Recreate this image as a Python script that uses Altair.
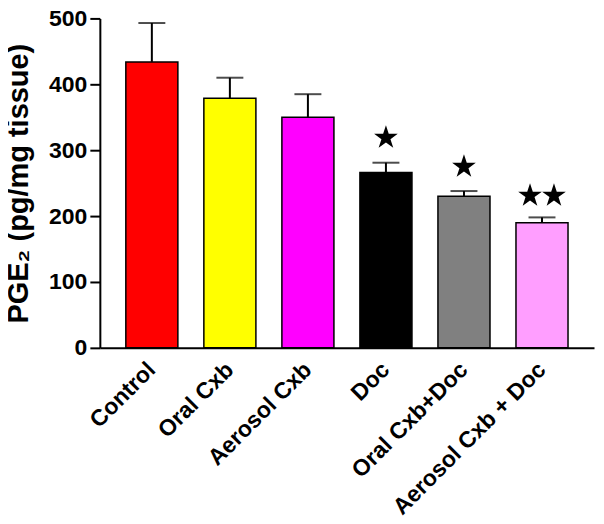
import altair as alt
import pandas as pd

categories = ["Control", "Oral Cxb", "Aerosol Cxb", "Doc", "Oral Cxb+Doc", "Aerosol Cxb + Doc"]
means = [434, 379, 350, 266, 230, 190]
upper = [493, 410, 385, 281, 238, 198]
colors = ["#ff0000", "#ffff00", "#ff00ff", "#000000", "#808080", "#ff9eff"]

star_groups = ["Doc", "Oral Cxb+Doc", "Aerosol Cxb + Doc"]
star_counts = [1, 1, 2]
star_y = [319, 275, 231]

df = pd.DataFrame({"group": categories, "mean": means, "upper": upper, "color": colors})
sdf = pd.DataFrame({"group": star_groups, "n": star_counts, "sy": star_y})

FONT = "Liberation Sans"
STAR = ("M0,-1L0.2245,-0.309L0.951,-0.309L0.3633,0.118L0.5878,0.809L0,0.382"
        "L-0.5878,0.809L-0.3633,0.118L-0.951,-0.309L-0.2245,-0.309Z")

xscale = alt.Scale(domain=categories, paddingInner=0.333, paddingOuter=0.333)
yscale = alt.Scale(domain=[0, 500], nice=False)

xaxis = alt.Axis(labelAngle=-45, labelAlign="right", labelBaseline="middle",
                 labelLimit=400, labelPadding=18,
                 labelFont=FONT, labelFontWeight="bold", labelFontSize=23,
                 labelColor="black", ticks=False,
                 domainColor="black", domainWidth=2)
yaxis = alt.Axis(values=[0, 100, 200, 300, 400, 500], grid=False,
                 labelFont=FONT, labelFontWeight="bold", labelFontSize=23,
                 labelColor="black", labelPadding=3,
                 tickSize=10, tickWidth=2, tickColor="black",
                 domainColor="black", domainWidth=2,
                 titleFont=FONT, titleFontSize=29, titleFontWeight="bold",
                 titleColor="black", titlePadding=15)
YTITLE = "PGE₂ (pg/mg tissue)"

x = alt.X("group:N", scale=xscale, sort=categories, title=None, axis=xaxis)

base = alt.Chart(df)

bars = base.mark_bar(stroke="black", strokeWidth=1.5).encode(
    x=x,
    y=alt.Y("mean:Q", scale=yscale, axis=yaxis, title=YTITLE),
    color=alt.Color("color:N", scale=None, legend=None),
)
err_line = base.mark_rule(color="black", strokeWidth=2).encode(
    x=x,
    y=alt.Y("mean:Q", scale=yscale, axis=yaxis, title=YTITLE),
    y2="upper:Q",
)
err_cap = base.mark_tick(color="black", thickness=2, size=27).encode(
    x=x,
    y=alt.Y("upper:Q", scale=yscale, axis=yaxis, title=YTITLE),
)

sbase = alt.Chart(sdf)
star_enc = dict(x=x, y=alt.Y("sy:Q", scale=yscale, axis=yaxis, title=YTITLE))
STAR_SIZE = 620
star1 = sbase.transform_filter("datum.n == 1").mark_point(
    shape=STAR, filled=True, color="black", size=STAR_SIZE, opacity=1, strokeWidth=0).encode(**star_enc)
star2a = sbase.transform_filter("datum.n == 2").mark_point(
    shape=STAR, filled=True, color="black", size=STAR_SIZE, opacity=1, strokeWidth=0,
    xOffset=-12).encode(**star_enc)
star2b = sbase.transform_filter("datum.n == 2").mark_point(
    shape=STAR, filled=True, color="black", size=STAR_SIZE, opacity=1, strokeWidth=0,
    xOffset=12).encode(**star_enc)

chart = alt.layer(bars, err_line, err_cap, star1, star2a, star2b).properties(
    width=495, height=330,
    autosize=alt.AutoSizeParams(type="none"),
    padding={"left": 92, "top": 10, "right": 2, "bottom": 170},
).configure_view(stroke=None)

chart.save("out.html", embed_options={"renderer": "svg", "actions": False})
